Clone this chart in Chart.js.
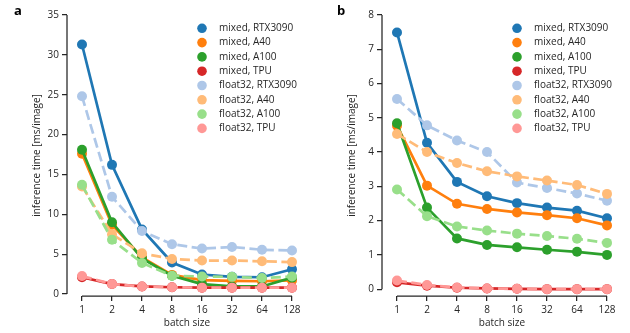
<!DOCTYPE html>
<html><head><meta charset="utf-8">
<script src="https://cdn.jsdelivr.net/npm/chart.js@4/dist/chart.umd.min.js"></script>
<style>
html,body{margin:0;padding:0;background:#fff;}
#wrap{position:relative;width:630px;height:333px;overflow:hidden;background:#fff;}
canvas{position:absolute;top:0;}
.panel{position:absolute;font:bold 13px 'Open Sans',sans-serif;color:#000;line-height:1;}
</style></head><body>
<div id="wrap">
<canvas id="ca" width="315" height="333" style="left:0"></canvas>
<canvas id="cb" width="315" height="333" style="left:315px"></canvas>
<div class="panel" style="left:14px;top:4px">a</div>
<div class="panel" style="left:337px;top:4px">b</div>
</div>
<script>
// ---- data ----
const batchSizes = ['1', '2', '4', '8', '16', '32', '64', '128'];
const seriesLabels = ['mixed, RTX3090', 'mixed, A40', 'mixed, A100', 'mixed, TPU',
                      'float32, RTX3090', 'float32, A40', 'float32, A100', 'float32, TPU'];

// panel a
const a_mixed_RTX3090   = [31.3, 16.2, 8.1, 3.95, 2.45, 2.15, 2.1, 3.1];
const a_mixed_A40       = [17.6, 8.7, 4.6, 2.4, 1.75, 1.65, 1.6, 1.7];
const a_mixed_A100      = [18.1, 9.0, 4.45, 2.3, 1.25, 0.95, 0.95, 2.05];
const a_mixed_TPU       = [2.1, 1.25, 0.95, 0.85, 0.8, 0.8, 0.8, 0.8];
const a_float32_RTX3090 = [24.8, 12.2, 7.9, 6.25, 5.7, 5.9, 5.55, 5.45];
const a_float32_A40     = [13.5, 7.5, 5.1, 4.4, 4.2, 4.2, 4.1, 4.0];
const a_float32_A100    = [13.7, 6.8, 3.9, 2.3, 2.2, 2.15, 2.0, 2.2];
const a_float32_TPU     = [2.25, 1.25, 0.95, 0.85, 0.8, 0.8, 0.8, 0.8];
const a_yTicks = [0, 5, 10, 15, 20, 25, 30, 35];

// panel b
const b_mixed_RTX3090   = [7.49, 4.27, 3.13, 2.71, 2.51, 2.38, 2.29, 2.07];
const b_mixed_A40       = [4.77, 3.02, 2.49, 2.34, 2.24, 2.16, 2.07, 1.86];
const b_mixed_A100      = [4.84, 2.38, 1.48, 1.29, 1.22, 1.15, 1.09, 1.0];
const b_mixed_TPU       = [0.2, 0.1, 0.04, 0.02, 0.01, 0.0, 0.0, 0.0];
const b_float32_RTX3090 = [5.55, 4.78, 4.34, 4.0, 3.11, 2.95, 2.79, 2.58];
const b_float32_A40     = [4.53, 4.0, 3.68, 3.44, 3.29, 3.17, 3.04, 2.78];
const b_float32_A100    = [2.91, 2.13, 1.83, 1.71, 1.62, 1.55, 1.47, 1.35];
const b_float32_TPU     = [0.25, 0.12, 0.05, 0.02, 0.01, 0.0, 0.0, 0.0];
const b_yTicks = [0, 1, 2, 3, 4, 5, 6, 7, 8];

// ---- styling ----
const colors = ['#1f77b4', '#ff7f0e', '#2ca02c', '#d62728',
                '#aec7e8', '#ffbb78', '#98df8a', '#ff9896'];
const TXT = '#262626';
const FONT = "'Open Sans', sans-serif";

const spinePlugin = {
  id: 'spines',
  beforeDatasetsDraw(chart) {
    const {ctx, chartArea, scales: {x, y}} = chart;
    const yt = y.ticks;
    ctx.save();
    ctx.strokeStyle = TXT; ctx.lineWidth = 1.25;
    ctx.beginPath();
    ctx.moveTo(chartArea.left, y.getPixelForValue(yt[0].value));
    ctx.lineTo(chartArea.left, y.getPixelForValue(yt[yt.length - 1].value));
    ctx.moveTo(x.getPixelForTick(0), chartArea.bottom);
    ctx.lineTo(x.getPixelForTick(x.ticks.length - 1), chartArea.bottom);
    ctx.stroke();
    ctx.restore();
  }
};

const legendPlugin = {
  id: 'ptLegend',
  afterDatasetsDraw(chart) {
    const {ctx, chartArea} = chart;
    ctx.save();
    ctx.font = '10px ' + FONT;
    ctx.textBaseline = 'middle';
    chart.data.datasets.forEach((ds, i) => {
      const cy = chartArea.top + 13.3 + i * 14.3;
      const cx = chartArea.right - 105;
      ctx.beginPath();
      ctx.arc(cx, cy, 4.8, 0, 2 * Math.PI);
      ctx.fillStyle = ds.borderColor;
      ctx.fill();
      ctx.fillStyle = TXT;
      ctx.fillText(ds.label, cx + 17, cy);
    });
    ctx.restore();
  }
};

function makeChart(id, series, yTicks, yMin) {
  const datasets = series.map((d, i) => ({
    label: seriesLabels[i],
    data: d,
    borderColor: colors[i],
    backgroundColor: colors[i],
    pointBackgroundColor: colors[i],
    pointBorderWidth: 0,
    pointRadius: 5,
    borderWidth: 2.7,
    borderDash: i >= 4 ? [10, 4.5] : [],
    tension: 0,
    order: 7 - i
  }));
  return new Chart(document.getElementById(id), {
    type: 'line',
    data: {labels: batchSizes, datasets},
    plugins: [spinePlugin, legendPlugin],
    options: {
      responsive: false,
      animation: false,
      devicePixelRatio: 1,
      layout: {padding: {left: 27, right: 8, top: 15, bottom: 0}},
      plugins: {legend: {display: false}, tooltip: {enabled: false}},
      scales: {
        x: {
          type: 'category',
          offset: true,
          grid: {display: true, offset: false, drawOnChartArea: false, drawTicks: true,
                 tickLength: 5, color: TXT, lineWidth: 1.25},
          border: {display: false},
          ticks: {color: TXT, font: {family: FONT, size: 10}, padding: 3, maxRotation: 0},
          title: {display: true, text: 'batch size', color: TXT,
                  font: {family: FONT, size: 10}, padding: {top: 0, bottom: 4}},
          afterFit(s) { s.height = 37; }
        },
        y: {
          type: 'linear',
          min: yMin,
          max: yTicks[yTicks.length - 1],
          afterBuildTicks(s) { s.ticks = yTicks.map(v => ({value: v})); },
          grid: {display: true, drawOnChartArea: false, drawTicks: true,
                 tickLength: 5, color: TXT, lineWidth: 1.25},
          border: {display: false},
          ticks: {color: TXT, font: {family: FONT, size: 10}, padding: 3},
          title: {display: true, text: 'inference time [ms/image]', color: TXT,
                  font: {family: FONT, size: 10}, padding: {top: 4, bottom: 0}},
          afterFit(s) { s.width = 40; }
        }
      }
    }
  });
}

makeChart('ca', [a_mixed_RTX3090, a_mixed_A40, a_mixed_A100, a_mixed_TPU,
                 a_float32_RTX3090, a_float32_A40, a_float32_A100, a_float32_TPU],
          a_yTicks, -0.25);
makeChart('cb', [b_mixed_RTX3090, b_mixed_A40, b_mixed_A100, b_mixed_TPU,
                 b_float32_RTX3090, b_float32_A40, b_float32_A100, b_float32_TPU],
          b_yTicks, -0.2);
</script>
</body></html>
